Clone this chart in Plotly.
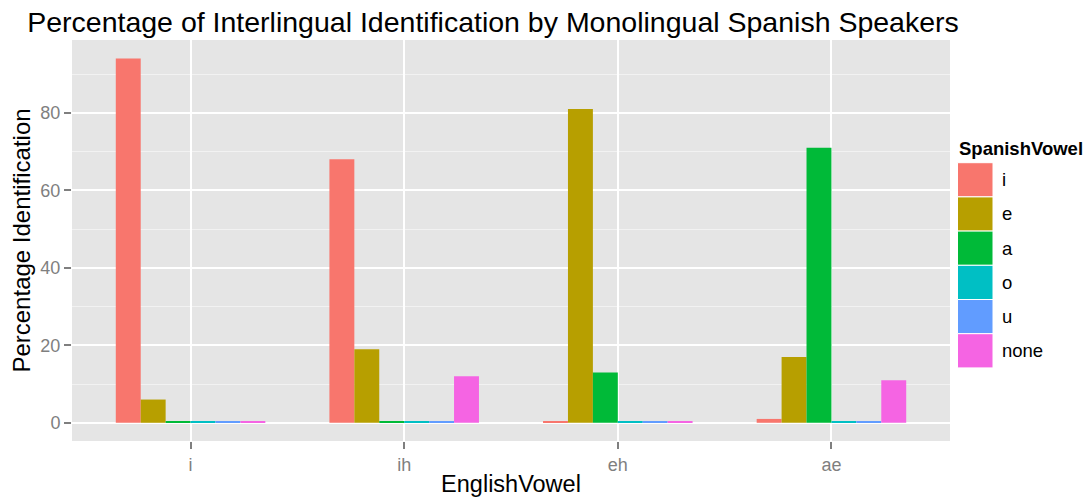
import plotly.graph_objects as go

english_vowels = ["i", "ih", "eh", "ae"]
spanish_vowels = ["i", "e", "a", "o", "u", "none"]
pct_i = [94, 68, 0.3, 1]
pct_e = [6, 19, 81, 17]
pct_a = [0.3, 0.3, 13, 71]
pct_o = [0.3, 0.3, 0.3, 0.3]
pct_u = [0.3, 0.3, 0.3, 0.3]
pct_none = [0.3, 12, 0.3, 11]
series = [pct_i, pct_e, pct_a, pct_o, pct_u, pct_none]
colors = ["#F8766D", "#B79F00", "#00BA38", "#00BFC4", "#619CFF", "#F564E3"]

W, H = 1087, 497
ML, MR, MT, MB = 72, 137, 40, 56
PW, PH = W - ML - MR, H - MT - MB

def px(x):
    return (x - ML) / PW

def py(y):
    return (H - MB - y) / PH

fig = go.Figure()
for name, vals, col in zip(spanish_vowels, series, colors):
    fig.add_trace(go.Bar(x=english_vowels, y=vals, name=name, marker_color=col,
                         marker_line_width=0, showlegend=False))

FONT = "Liberation Sans, Arial, Helvetica, sans-serif"

# ggplot-style legend (keys drawn in paper coordinates)
shapes = []
annotations = [dict(text="<b>SpanishVowel</b>", xref="paper", yref="paper",
                    x=px(957), y=py(148), xanchor="left", yanchor="middle",
                    showarrow=False, font=dict(size=18.5, color="black", family=FONT))]
key_top, key_h = 162.7, 34.2
for k, (name, col) in enumerate(zip(spanish_vowels, colors)):
    y0 = key_top + k * key_h
    shapes.append(dict(type="rect", xref="paper", yref="paper",
                       x0=px(957.5), x1=px(993), y0=py(y0 + key_h), y1=py(y0),
                       fillcolor=col, line=dict(color="white", width=1), layer="above"))
    annotations.append(dict(text=name, xref="paper", yref="paper",
                            x=px(1000), y=py(y0 + key_h / 2), xanchor="left", yanchor="middle",
                            showarrow=False, font=dict(size=18.5, color="black", family=FONT)))

fig.update_layout(
    width=W, height=H,
    margin=dict(l=ML, r=MR, t=MT, b=MB),
    paper_bgcolor="white", plot_bgcolor="#E5E5E5",
    barmode="group", bargap=0.3, bargroupgap=0,
    font=dict(family=FONT, color="black"),
    showlegend=False,
    shapes=shapes, annotations=annotations,
    title=dict(text="Percentage of Interlingual Identification by Monolingual Spanish Speakers",
               x=493/1087, xanchor="center", xref="container",
               y=1-22/497, yanchor="middle", yref="container",
               font=dict(size=28.5, color="black", family=FONT)),
    xaxis=dict(title=dict(text="EnglishVowel", font=dict(size=23.5), standoff=6),
               automargin=False, range=[-0.555, 3.555],
               tickfont=dict(size=18, color="#7F7F7F"), ticks="outside", ticklen=7,
               tickcolor="#7F7F7F", tickwidth=1.5, showgrid=True, gridcolor="white", gridwidth=1.5,
               zeroline=False, showline=False),
    yaxis=dict(title=dict(text="Percentage Identification", font=dict(size=24), standoff=2),
               automargin=False,
               tickfont=dict(size=18, color="#7F7F7F"), ticks="outside", ticklen=7,
               tickcolor="#7F7F7F", tickwidth=1.5, range=[-4.7, 98.8], dtick=20, tick0=0,
               showgrid=True, gridcolor="white", gridwidth=1.5, zeroline=False,
               minor=dict(dtick=10, tick0=0, showgrid=True, gridcolor="#F2F2F2", gridwidth=1, ticks="")),
)
fig.write_html("out.html", config={"displayModeBar": False},
               post_script="document.body.style.margin='0';")
